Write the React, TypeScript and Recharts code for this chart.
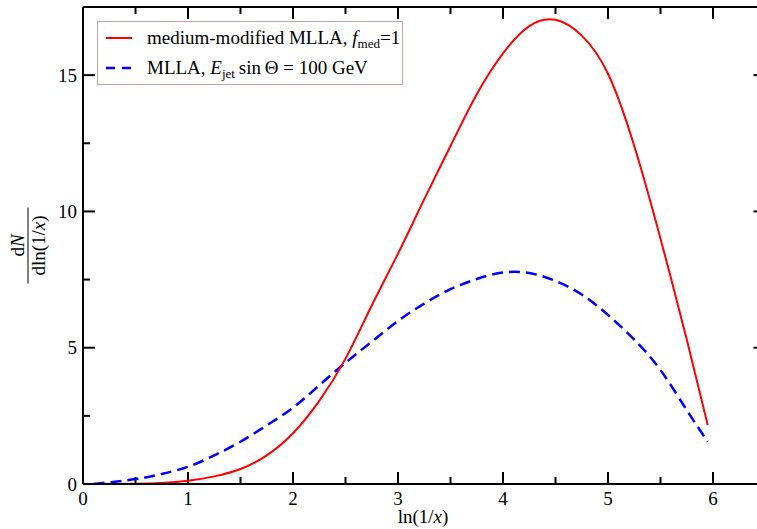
import { Label, Legend, Line, LineChart, ReferenceLine, XAxis, YAxis } from "recharts";

const SERIF = '"Liberation Serif", "Times New Roman", serif';

// medium-modified MLLA, f_med = 1
const medX = [0.1, 0.5, 0.75, 1, 1.25, 1.5, 1.75, 2, 2.25, 2.5, 2.75, 3, 3.25, 3.5, 3.75, 4, 4.25, 4.5, 4.75, 5, 5.25, 5.5, 5.75, 5.95];
const medY = [0, 0.01, 0.04, 0.12, 0.28, 0.55, 1.05, 1.86, 3.05, 4.6, 6.55, 8.45, 10.45, 12.4, 14.3, 15.8, 16.8, 17.03, 16.45, 15.05, 12.4, 9.0, 5.3, 2.16];

// MLLA, E_jet sin(theta) = 100 GeV
const vacX = [0.1, 0.5, 0.75, 1, 1.25, 1.5, 1.75, 2, 2.25, 2.5, 2.75, 3, 3.25, 3.5, 3.75, 4, 4.25, 4.5, 4.75, 5, 5.25, 5.5, 5.75, 5.95];
const vacY = [0, 0.18, 0.37, 0.63, 1.05, 1.55, 2.15, 2.8, 3.62, 4.45, 5.22, 5.98, 6.62, 7.15, 7.52, 7.76, 7.74, 7.45, 6.95, 6.2, 5.3, 4.18, 2.71, 1.55];

const xTicks = [0, 0.5, 1, 1.5, 2, 2.5, 3, 3.5, 4, 4.5, 5, 5.5, 6, 6.5];
const yTicks = [0, 2.5, 5, 7.5, 10, 12.5, 15, 17.5];

const medData = medX.map((x, i) => ({ x, y: medY[i] }));
const vacData = vacX.map((x, i) => ({ x, y: vacY[i] }));

const X_MAX = 6.5;
const Y_MAX = 17.5;
const PLOT_W = 682.5;
const PLOT_H = 477;
const MAJOR = 12;
const MINOR = 7;
const AXIS_LINE = { stroke: "#000", strokeWidth: 2 };

const isMajorX = (v: number) => Number.isInteger(v);
const isMajorY = (v: number) => v % 5 === 0;
// tick lengths converted to data units
const xLen = (v: number) => ((isMajorY(v) ? MAJOR : MINOR) * X_MAX) / PLOT_W;
const yLen = (v: number) => ((isMajorX(v) ? MAJOR : MINOR) * Y_MAX) / PLOT_H;

function BottomLabel({ x, y, payload }: any) {
  if (!isMajorX(payload.value) || payload.value > 6) return <g />;
  return (
    <text x={x} y={Number(y) + 21} textAnchor="middle" fontSize={19} fontFamily={SERIF} fill="#000">
      {payload.value}
    </text>
  );
}

function LeftLabel({ x, y, payload }: any) {
  if (!isMajorY(payload.value)) return <g />;
  return (
    <text x={Number(x) - 6} y={y} dy="0.35em" textAnchor="end" fontSize={19} fontFamily={SERIF} fill="#000">
      {payload.value}
    </text>
  );
}

function XTitle({ viewBox }: any) {
  const cx = viewBox.x + 340;
  return (
    <text x={cx} y={viewBox.y + 39} textAnchor="middle" fontSize={19} fontFamily={SERIF} fill="#000">
      ln(1/<tspan fontStyle="italic">x</tspan>)
    </text>
  );
}

function YTitle({ viewBox }: any) {
  const cx = viewBox.x + viewBox.width - 55;
  const cy = viewBox.y + viewBox.height / 2;
  return (
    <g transform={`rotate(-90, ${cx}, ${cy})`} fontFamily={SERIF} fontSize={19} fill="#000">
      <text x={cx} y={cy - 4} textAnchor="middle">
        d<tspan fontStyle="italic">N</tspan>
      </text>
      <line x1={cx - 38} x2={cx + 38} y1={cy} y2={cy} stroke="#000" strokeWidth={1} />
      <text x={cx} y={cy + 17} textAnchor="middle">
        dln(1/<tspan fontStyle="italic">x</tspan>)
      </text>
    </g>
  );
}

function LegendBox() {
  const sample: React.CSSProperties = { position: "absolute", left: 8, width: 26, height: 4 };
  const label: React.CSSProperties = { position: "absolute", left: 49, whiteSpace: "nowrap" };
  const sub: React.CSSProperties = { fontSize: 13, verticalAlign: "-4px" };
  return (
    <div
      style={{
        position: "relative",
        width: 306,
        height: 64,
        boxSizing: "border-box",
        border: "1px solid #c9a0a0",
        background: "#fff",
        fontFamily: SERIF,
        fontSize: 19,
        color: "#000",
        lineHeight: "22px",
      }}
    >
      <svg style={{ ...sample, top: 14 }}>
        <line x1={0} x2={26} y1={2} y2={2} stroke="#ff0000" strokeWidth={2} />
      </svg>
      <div style={{ ...label, top: 5 }}>
        medium-modified MLLA, <i>f</i>
        <span style={sub}>med</span>=1
      </div>
      <svg style={{ ...sample, top: 44 }}>
        <line x1={0} x2={26} y1={2} y2={2} stroke="#0000ff" strokeWidth={2.5} strokeDasharray="9 7" />
      </svg>
      <div style={{ ...label, top: 35 }}>
        MLLA, <i>E</i>
        <span style={sub}>jet</span>
        {"\u2009"}sin{"\u2009"}Θ = 100 GeV
      </div>
    </div>
  );
}

const axisCommon = {
  type: "number" as const,
  interval: 0 as const,
  tickSize: 0,
  tickMargin: 0,
  tickLine: false,
  axisLine: AXIS_LINE,
};

const tickMark = { stroke: "#000", strokeWidth: 2, ifOverflow: "visible" as const, xAxisId: "bottom", yAxisId: "left" };

export default function App() {
  return (
    <div style={{ position: "absolute", left: 0, top: 0, width: 757, height: 529, overflow: "hidden", background: "#fff" }}>
      <LineChart width={770} height={529} margin={{ top: 6, right: 3.5, bottom: 44, left: 82 }}>
        <XAxis xAxisId="bottom" dataKey="x" domain={[0, X_MAX]} ticks={xTicks} height={1} tick={<BottomLabel />} {...axisCommon}>
          <Label content={<XTitle />} />
        </XAxis>
        <XAxis xAxisId="top" orientation="top" dataKey="x" domain={[0, X_MAX]} ticks={xTicks} height={1} tick={false} {...axisCommon} />
        <YAxis yAxisId="left" domain={[0, Y_MAX]} ticks={yTicks} width={1} tick={<LeftLabel />} {...axisCommon}>
          <Label content={<YTitle />} />
        </YAxis>
        <YAxis yAxisId="right" orientation="right" domain={[0, Y_MAX]} ticks={yTicks} width={1} tick={false} {...axisCommon} />

        {/* inward tick marks on all four sides */}
        {xTicks.map((v) => (
          <ReferenceLine key={`b${v}`} segment={[{ x: v, y: 0 }, { x: v, y: yLen(v) }]} {...tickMark} />
        ))}
        {xTicks.map((v) => (
          <ReferenceLine key={`t${v}`} segment={[{ x: v, y: Y_MAX }, { x: v, y: Y_MAX - yLen(v) }]} {...tickMark} />
        ))}
        {yTicks.map((v) => (
          <ReferenceLine key={`l${v}`} segment={[{ x: 0, y: v }, { x: xLen(v), y: v }]} {...tickMark} />
        ))}
        {yTicks.map((v) => (
          <ReferenceLine key={`r${v}`} segment={[{ x: X_MAX, y: v }, { x: X_MAX - xLen(v), y: v }]} {...tickMark} />
        ))}

        <Legend
          layout="horizontal"
          verticalAlign="middle"
          align="center"
          content={<LegendBox />}
          wrapperStyle={{ left: 97, top: 21, width: 306, height: 64 }}
        />
        <Line
          xAxisId="bottom"
          yAxisId="left"
          data={vacData}
          dataKey="y"
          type="natural"
          stroke="#0000ff"
          strokeWidth={2.5}
          strokeDasharray="11 6"
          dot={false}
          isAnimationActive={false}
        />
        <Line
          xAxisId="bottom"
          yAxisId="left"
          data={medData}
          dataKey="y"
          type="natural"
          stroke="#ff0000"
          strokeWidth={2}
          dot={false}
          isAnimationActive={false}
        />
      </LineChart>
    </div>
  );
}
